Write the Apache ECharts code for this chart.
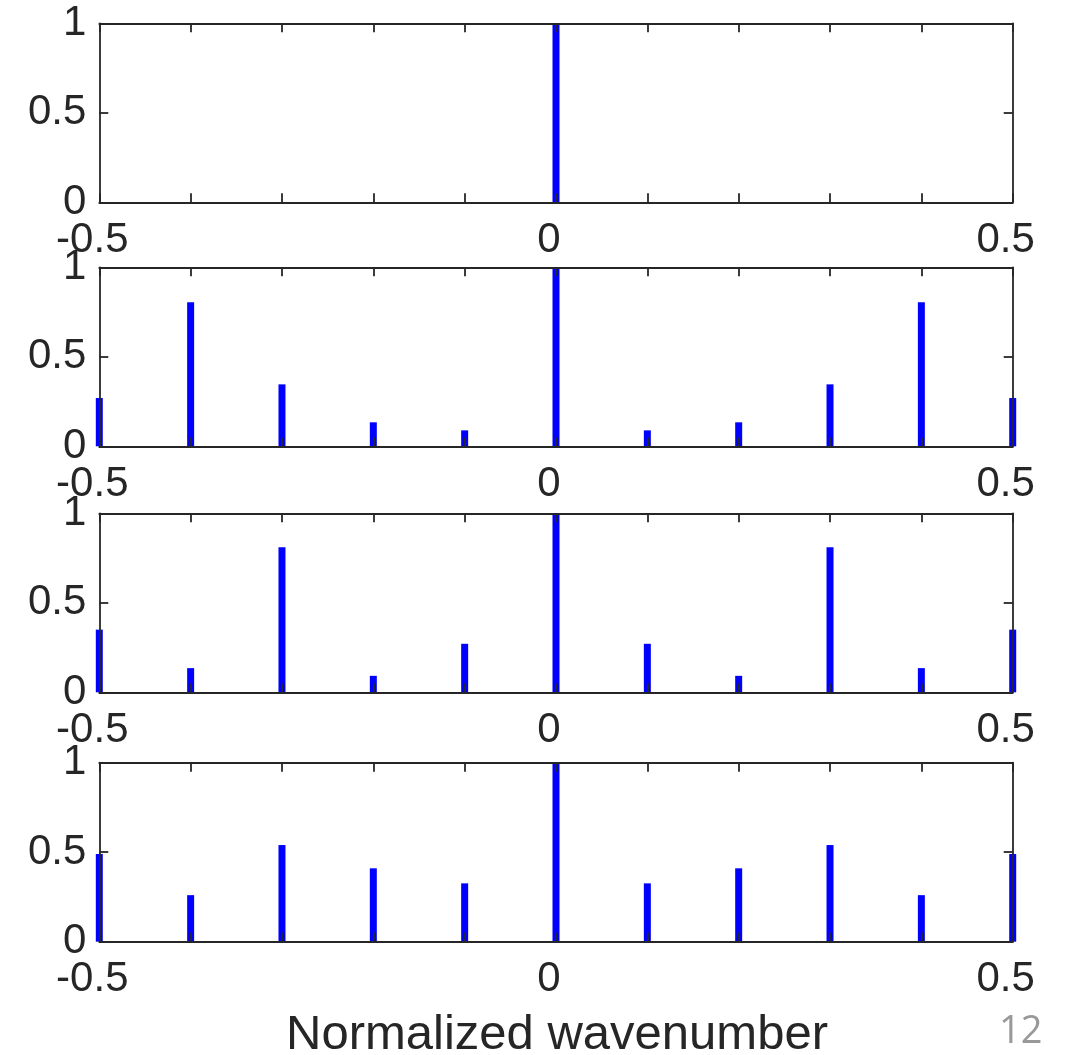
<!DOCTYPE html>
<html>
<head>
<meta charset="utf-8">
<script src="https://cdn.jsdelivr.net/npm/echarts@6/dist/echarts.min.js"></script>
<style>
html,body{margin:0;padding:0;background:#fff;}
#chart{width:1066px;height:1055px;}
</style>
</head>
<body>
<div id="chart"></div>
<script>
// x positions (normalized wavenumber)
var xPositions = [-0.5, -0.4, -0.3, -0.2, -0.1, 0, 0.1, 0.2, 0.3, 0.4, 0.5];
// panel values
var panel1 = [0, 0, 0, 0, 0, 1, 0, 0, 0, 0, 0];
var panel2 = [0.27, 0.805, 0.346, 0.134, 0.089, 1, 0.089, 0.134, 0.346, 0.805, 0.27];
var panel3 = [0.35, 0.135, 0.81, 0.092, 0.271, 1, 0.271, 0.092, 0.81, 0.135, 0.35];
var panel4 = [0.49, 0.26, 0.54, 0.41, 0.326, 1, 0.326, 0.41, 0.54, 0.26, 0.49];
var xTickLabels = ['-0.5', '0', '0.5'];
var xAxisTitle = 'Normalized wavenumber';
var pageNumber = '12';

var panels = [panel1, panel2, panel3, panel4];
var FONT = '"Liberation Sans", Arial, Helvetica, sans-serif';
var AX = '#262626';
var gridTops = [23.3, 267.3, 513.3, 762.7];
var gridLeft = 99.3, gridRight = 1012.7, gridH = 179;

function xLabel(v) {
  for (var i = 0; i < xTickLabels.length; i++) {
    if (Math.abs(parseFloat(xTickLabels[i]) - v) < 1e-6) return xTickLabels[i];
  }
  return '';
}

var grids = [], xAxes = [], yAxes = [], series = [];
panels.forEach(function (vals, p) {
  grids.push({left: gridLeft, width: gridRight - gridLeft, top: gridTops[p], height: gridH, containLabel: false});
  var baseX = {
    type: 'value', gridIndex: p, min: -0.5, max: 0.5, interval: 0.1, z: 10,
    axisLine: {show: true, onZero: false, lineStyle: {color: AX, width: 1.8}},
    axisTick: {show: true, inside: true, length: 9, lineStyle: {color: AX, width: 1.8}},
    splitLine: {show: false}
  };
  xAxes.push(Object.assign({}, baseX, {
    position: 'bottom',
    axisLabel: {show: true, formatter: xLabel, color: AX, fontSize: 42, fontFamily: FONT,
      margin: 17, padding: [0, 14, 0, 0], showMinLabel: true, showMaxLabel: true, hideOverlap: false}
  }));
  xAxes.push(Object.assign({}, baseX, {position: 'top', axisLabel: {show: false}}));
  var baseY = {
    type: 'value', gridIndex: p, min: 0, max: 1, interval: 0.5, z: 10,
    axisLine: {show: true, onZero: false, lineStyle: {color: AX, width: 1.8}},
    axisTick: {show: true, inside: true, length: 9, lineStyle: {color: AX, width: 1.8}},
    splitLine: {show: false}
  };
  yAxes.push(Object.assign({}, baseY, {
    position: 'left',
    axisLabel: {show: true, color: AX, fontSize: 42, fontFamily: FONT, margin: 13,
      showMinLabel: true, showMaxLabel: true}
  }));
  yAxes.push(Object.assign({}, baseY, {position: 'right', axisLabel: {show: false}}));
  series.push({
    type: 'bar', xAxisIndex: 2 * p, yAxisIndex: 2 * p, barWidth: 7,
    itemStyle: {color: '#0000ff'}, silent: true, animation: false, z: 2,
    data: xPositions.map(function (x, i) { return [x, vals[i]]; })
  });
});

var chart = echarts.init(document.getElementById('chart'), null, {renderer: 'canvas'});
chart.setOption({
  animation: false,
  backgroundColor: '#ffffff',
  grid: grids,
  xAxis: xAxes,
  yAxis: yAxes,
  series: series,
  graphic: [
    {type: 'text', x: 557, y: 1011, z: 20,
      style: {text: xAxisTitle, fill: AX, font: '49px ' + FONT, textAlign: 'center'}},
    {type: 'text', left: 999, top: 1013, z: 20,
      style: {text: pageNumber, fill: '#999999', font: '38px "Open Sans", ' + FONT}}
  ]
});
</script>
</body>
</html>
